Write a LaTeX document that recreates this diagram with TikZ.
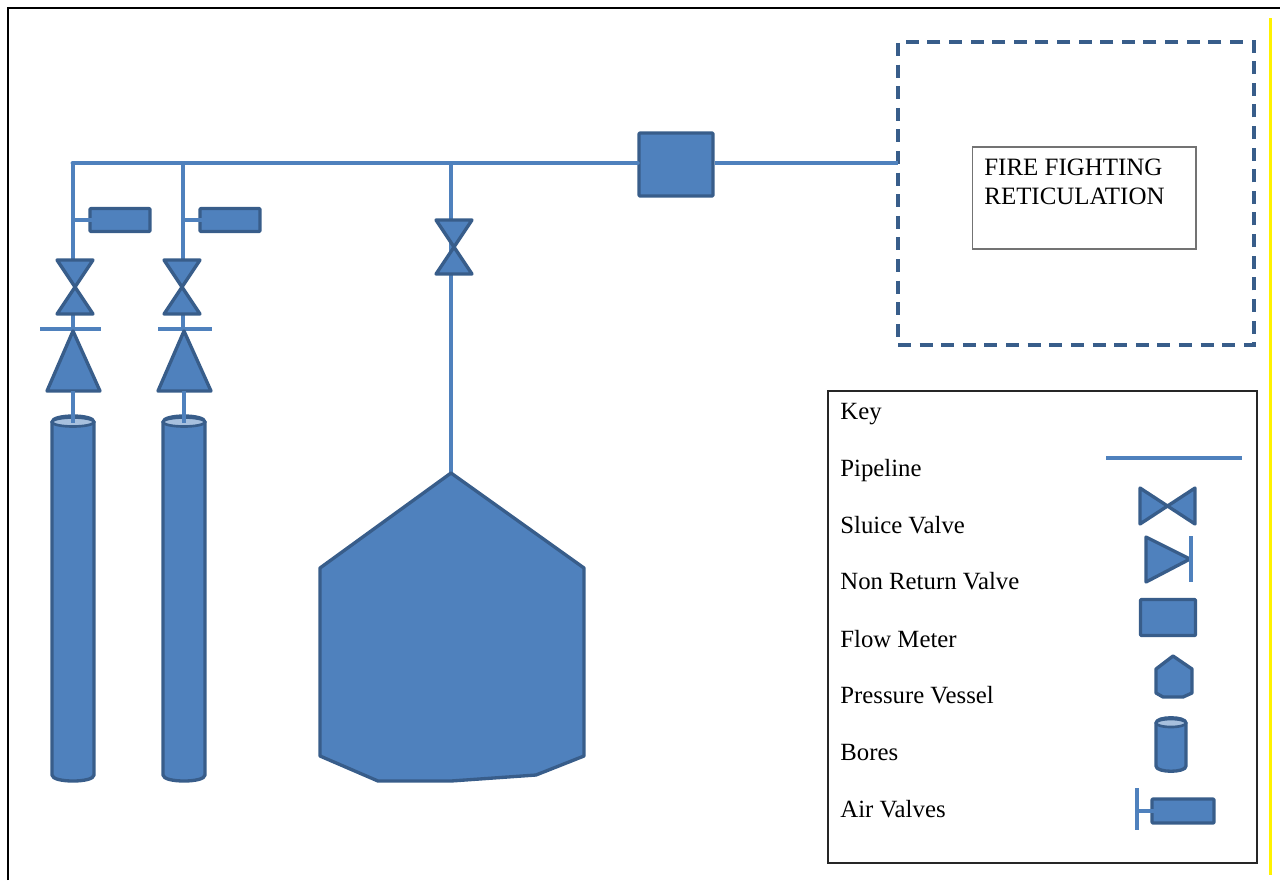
\documentclass[tikz,border=0pt]{standalone}
\usepackage{fontspec}
\setmainfont{Liberation Serif}
\definecolor{pipeblue}{HTML}{4F81BD}
\definecolor{edgeblue}{HTML}{385D8A}
\definecolor{lidblue}{HTML}{A7C0DE}
\tikzset{
	pipe/.style={line width=2.8pt,color=pipeblue},
	stem/.style={line width=1.9pt,color=pipeblue},
	unit/.style={line width=1.9pt,draw=edgeblue,fill=pipeblue,line join=round},
	boxunit/.style={unit,rounded corners=.5pt,inner sep=0pt},
	lid/.style={line width=1.5pt,draw=edgeblue,fill=lidblue},
	keytext/.style={anchor=base west,inner sep=0pt,font=\fontsize{14.1}{17}\selectfont},
}
\begin{document}
\begin{tikzpicture}[x=0.02cm,y=-0.02cm]
	\useasboundingbox (0,0) rectangle (1280,880);
	% page edges
	\draw[line width=1.2pt] (8,880) -- (8,8) -- (1280,8);
	\draw[line width=1.7pt,color=yellow] (1270.5,18) -- (1270.5,875);
	% reticulation
	\node[draw=edgeblue,line width=2pt,dash pattern=on 7.4pt off 4.9pt,minimum width=7.12cm,minimum height=6.06cm,inner sep=0pt] (ret) at (1076,193.5) {};
	\node[draw=black!55,line width=.6pt,minimum width=4.48cm,minimum height=2.04cm,inner sep=0pt] (retbox) at (1084,198) {};
	\node[anchor=north west,inner sep=0pt,align=left,font=\fontsize{14.2}{16.4}\selectfont] (rettext) at (984,158.5) {FIRE FIGHTING\\RETICULATION};
	% junctions on the main
	\coordinate (j1) at (73,163);
	\coordinate (j2) at (183,163);
	\coordinate (j3) at (451,163);
	\coordinate (retin) at (898,163);
	% flow meter
	\node[boxunit,minimum width=1.48cm,minimum height=1.26cm] (meter) at (676,164.5) {};
	\draw[pipe,line cap=round] (j1) -- (j2) -- (j3) -- (j3 -| meter.west);
	\draw[pipe] (retin -| meter.east) -- (retin);
	% bore 1
	\coordinate (b1top) at (73,260);
	\coordinate (b1air) at (73,220);
	\coordinate (b1mid) at (73,314);
	\coordinate (b1bar) at (73,329);
	\coordinate (b1base) at (73,391);
	\coordinate (b1end) at (73,423);
	\draw[pipe] (j1 -| b1top) -- (b1top);
	\draw[pipe] (b1mid) -- (b1bar);
	\node[boxunit,minimum width=1.2cm,minimum height=.46cm] (air1) at (120,220) {};
	\draw[stem] (b1air) -- (air1.center);
	\draw[unit] (57,260) -- (93,260) -- (57,314) -- (93,314) -- cycle;
	\draw[pipe] (40,329) -- (101,329);
	\draw[unit] (73,331) -- (100,391) -- (47,391) -- cycle;
	\draw[unit] (52,422) -- (52,775) .. controls (52,783) and (94,783) .. (94,775) -- (94,422) .. controls (94,414) and (52,414) .. (52,422) -- cycle;
	\draw[lid] (73,422) ellipse [x radius=21,y radius=4.5];
	\draw[pipe] (b1base) -- (b1end);
	% bore 2
	\coordinate (b2top) at (183,260);
	\coordinate (b2air) at (183,220);
	\coordinate (b2mid) at (183,314);
	\coordinate (b2bar) at (183,329);
	\coordinate (b2base) at (184,391);
	\coordinate (b2end) at (184,423);
	\draw[pipe] (j2 -| b2top) -- (b2top);
	\draw[pipe] (b2mid) -- (b2bar);
	\node[boxunit,minimum width=1.2cm,minimum height=.46cm] (air2) at (230,220) {};
	\draw[stem] (b2air) -- (air2.center);
	\draw[unit] (164,260) -- (200,260) -- (164,314) -- (200,314) -- cycle;
	\draw[pipe] (158,329) -- (212,329);
	\draw[unit] (184,331) -- (211,391) -- (158,391) -- cycle;
	\draw[unit] (163,422) -- (163,775) .. controls (163,783) and (205,783) .. (205,775) -- (205,422) .. controls (205,414) and (163,414) .. (163,422) -- cycle;
	\draw[lid] (184,422) ellipse [x radius=21,y radius=4.5];
	\draw[pipe] (b2base) -- (b2end);
	% pressure vessel
	\coordinate (pvtop) at (451,473);
	\draw[pipe] (j3) -- (pvtop);
	\draw[unit] (436,220) -- (472,220) -- (436,274) -- (472,274) -- cycle;
	\draw[unit] (pvtop) -- (584,568) -- (584,756) -- (536,775) -- (451,781) -- (378,781) -- (320,756) -- (320,568) -- cycle;
	% key
	\node[draw=black!85,line width=.8pt,minimum width=8.58cm,minimum height=9.44cm,inner sep=0pt] (keybox) at (1042.5,627) {};
	\node[keytext] (key) at (840,419) {Key};
	\node[keytext] (kpipe) at (840,476.5) {Pipeline};
	\node[keytext] (ksluice) at (840,533) {Sluice Valve};
	\node[keytext] (knrv) at (840,589) {Non Return Valve};
	\node[keytext] (kmeter) at (840,647) {Flow Meter};
	\node[keytext] (kvessel) at (840,703) {Pressure Vessel};
	\node[keytext] (kbores) at (840,760) {Bores};
	\node[keytext] (kair) at (840,817) {Air Valves};
	% key symbols
	\draw[pipe] (1106,458) -- (1242,458);
	\draw[unit] (1140,488) -- (1195,524) -- (1195,488) -- (1140,524) -- cycle;
	\draw[unit] (1146,537) -- (1190,559) -- (1146,582) -- cycle;
	\draw[pipe] (1191,536) -- (1191,582);
	\node[boxunit,minimum width=1.1cm,minimum height=.72cm] (kmeterunit) at (1168,617.5) {};
	\draw[unit] (1173,656) -- (1192,669) -- (1192,693) -- (1183,697) -- (1163,697) -- (1156,693) -- (1156,669) -- cycle;
	\draw[unit] (1156,723) -- (1156,766) .. controls (1156,773) and (1186,773) .. (1186,766) -- (1186,723) .. controls (1186,716) and (1156,716) .. (1156,723) -- cycle;
	\draw[lid] (1171,723) ellipse [x radius=15,y radius=4];
	\node[boxunit,minimum width=1.24cm,minimum height=.48cm] (kairunit) at (1183,811) {};
	\coordinate (kairstem) at (1137,811);
	\draw[pipe] (1137,788) -- (1137,830);
	\draw[stem] (kairstem) -- (kairunit.center);
\end{tikzpicture}
\end{document}
